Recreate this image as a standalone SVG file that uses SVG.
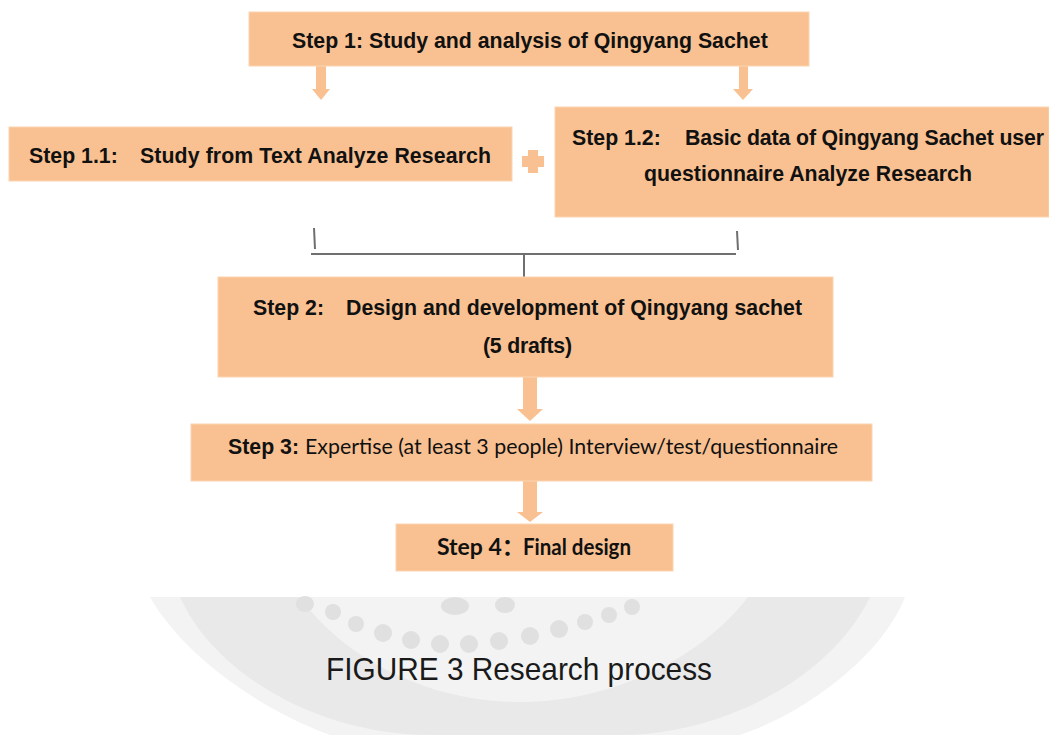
<svg xmlns="http://www.w3.org/2000/svg" width="1049" height="735" viewBox="0 0 1049 735">
<style>
.box{fill:#F9C191;stroke:#FBD3B0;stroke-width:1}
.arr{fill:#F9C191}
.t{font-family:"Liberation Sans",Arial,Helvetica,sans-serif;font-weight:bold;font-size:21.3px;fill:#111}
.c{font-family:Lato,"Open Sans","Liberation Sans",sans-serif;font-size:21px;fill:#111}
.cb{font-family:Lato,"Open Sans","Liberation Sans","Noto Sans CJK SC",sans-serif;font-weight:bold;font-size:23px;fill:#111}
.ln{stroke:#6f6f6f;stroke-width:2;fill:none}
.wm1{fill:#f3f3f3}
.wm2{fill:#e9e9e9}
.dot{fill:#e0e0e0}
</style>
<rect width="1049" height="735" fill="#ffffff"/>
<g id="watermark">
<path class="wm1" d="M150 597 L905 597 C880 660 800 715 740 735 L330 735 C250 705 180 650 150 597 Z"/>
<path class="wm2" d="M180 597 L300 597 C345 660 430 702 520 702 C610 702 700 660 748 597 L870 597 C830 680 720 735 620 735 L430 735 C320 735 215 675 180 597 Z"/>
<g>
<circle class="dot" cx="333" cy="612" r="8"/>
<circle class="dot" cx="356" cy="624" r="8"/>
<circle class="dot" cx="383" cy="633" r="9"/>
<circle class="dot" cx="411" cy="640" r="9"/>
<circle class="dot" cx="440" cy="644" r="9"/>
<circle class="dot" cx="469" cy="644" r="9"/>
<circle class="dot" cx="499" cy="641" r="9"/>
<circle class="dot" cx="530" cy="636" r="9"/>
<circle class="dot" cx="559" cy="629" r="9"/>
<circle class="dot" cx="585" cy="622" r="8"/>
<circle class="dot" cx="609" cy="615" r="8"/>
<circle class="dot" cx="632" cy="607" r="8"/>
<ellipse class="dot" cx="305" cy="604" rx="9" ry="8"/>
<ellipse class="dot" cx="455" cy="606" rx="14" ry="9"/>
<ellipse class="dot" cx="505" cy="605" rx="10" ry="8"/>
</g>
</g>
<g id="connectors">
<polygon class="arr" points="316,66 326,66 326,89 330,89 321,100 312,89 316,89"/>
<polygon class="arr" points="739,66 748,66 748,89 753,89 743,100 733,89 739,89"/>
<polygon class="arr" points="528,150 538,150 538,156 544,156 544,167 538,167 538,173 528,173 528,167 522,167 522,156 528,156"/>
<path class="ln" d="M314 228 L315 249" stroke="#333"/>
<path class="ln" d="M737 231 L738 250" stroke="#333"/>
<path class="ln" d="M311 254 L736 254"/>
<path class="ln" d="M524 254 L524 277"/>
<polygon class="arr" points="523,377 537,377 537,409 543,409 530,421 517,409 523,409"/>
<polygon class="arr" points="523,481 537,481 537,512 543,512 530,522 517,512 523,512"/>
</g>
<g id="step1">
<rect class="box" x="249" y="12" width="560" height="54"/>
<text class="t" x="292" y="48">Step 1: Study and analysis of Qingyang Sachet</text>
</g>
<g id="step1-1">
<rect class="box" x="9" y="127" width="503" height="54"/>
<text class="t" x="29" y="163">Step 1.1:</text>
<text class="t" x="140" y="163" textLength="351">Study from Text Analyze Research</text>
</g>
<g id="step1-2">
<rect class="box" x="555" y="107" width="494" height="110"/>
<text class="t" x="572" y="145">Step 1.2:</text>
<text class="t" x="685" y="145" textLength="359">Basic data of Qingyang Sachet user</text>
<text class="t" x="644" y="181" textLength="328">questionnaire Analyze Research</text>
</g>
<g id="step2">
<rect class="box" x="218" y="277" width="615" height="100"/>
<text class="t" x="253" y="315">Step 2:</text>
<text class="t" x="346" y="315" textLength="456">Design and development of Qingyang sachet</text>
<text class="t" x="483" y="353" textLength="89">(5 drafts)</text>
</g>
<g id="step3">
<rect class="box" x="191" y="424" width="681" height="57"/>
<text class="t" x="228" y="454">Step 3:</text>
<text class="c" x="305" y="454" textLength="533" lengthAdjust="spacingAndGlyphs">Expertise (at least 3 people) Interview/test/questionnaire</text>
</g>
<g id="step4">
<rect class="box" x="396" y="524" width="277" height="47"/>
<text class="cb" x="437" y="555">Step 4：</text>
<text class="cb" x="523" y="555" textLength="108" lengthAdjust="spacingAndGlyphs">Final design</text>
</g>
<text x="519" y="680" text-anchor="middle" font-family="'Liberation Sans Narrow','Liberation Sans',Arial,sans-serif" font-size="32" fill="#1a1a1a" textLength="386" lengthAdjust="spacingAndGlyphs">FIGURE 3 Research process</text>
</svg>
